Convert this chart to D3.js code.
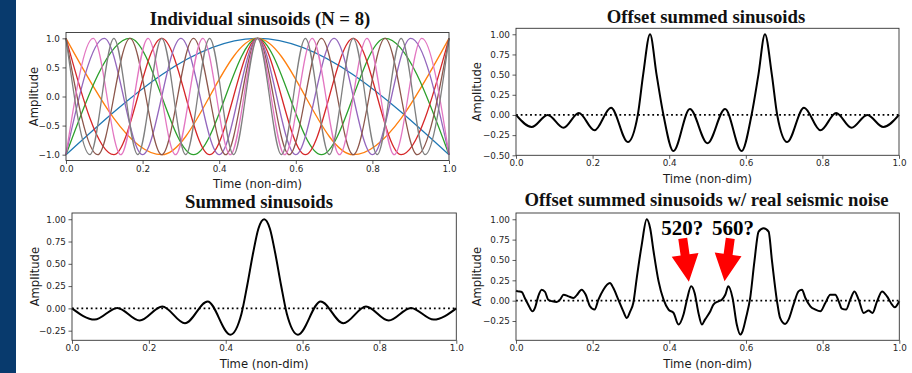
<!DOCTYPE html>
<html>
<head>
<meta charset="utf-8">
<script src="https://cdn.jsdelivr.net/npm/d3@7"></script>
<style>
  body { margin: 0; background: #fff; }
  svg { display: block; }
</style>
</head>
<body>
<svg id="fig" width="912" height="373"></svg>
<script>
// ---- data ----
const xTicks = [0, 0.2, 0.4, 0.6, 0.8, 1.0];
const yTicksIndividual = [-1, -0.5, 0, 0.5, 1];
const yTicksOffset = [-0.5, -0.25, 0, 0.25, 0.5, 0.75, 1];
const yTicksSummed = [-0.25, 0, 0.25, 0.5, 0.75, 1];

const titles = [
  'Individual sinusoids (N = 8)',
  'Offset summed sinusoids',
  'Summed sinusoids',
  'Offset summed sinusoids w/ real seismic noise'
];

// individual sinusoids: turning points [time, amplitude]
const sinF1 = [[0,-1],[0.5,1],[1,-1]];
const sinF2 = [[0,1],[0.25,-1],[0.5,1],[0.75,-1],[1,1]];
const sinF3 = [[0,-1],[0.167,1],[0.333,-1],[0.5,1],[0.667,-1],[0.833,1],[1,-1]];
const sinF4 = [[0,1],[0.125,-1],[0.25,1],[0.375,-1],[0.5,1],[0.625,-1],[0.75,1],[0.875,-1],[1,1]];
const sinF5 = [[0,-1],[0.1,1],[0.2,-1],[0.3,1],[0.4,-1],[0.5,1],[0.6,-1],[0.7,1],[0.8,-1],[0.9,1],[1,-1]];
const sinF6 = [[0,1],[0.083,-1],[0.167,1],[0.25,-1],[0.333,1],[0.417,-1],[0.5,1],[0.583,-1],[0.667,1],[0.75,-1],[0.833,1],[0.917,-1],[1,1]];
const sinF7 = [[0,-1],[0.071,1],[0.143,-1],[0.214,1],[0.286,-1],[0.357,1],[0.429,-1],[0.5,1],[0.571,-1],[0.643,1],[0.714,-1],[0.786,1],[0.857,-1],[0.929,1],[1,-1]];
const sinF8 = [[0,1],[0.0625,-1],[0.125,1],[0.1875,-1],[0.25,1],[0.3125,-1],[0.375,1],[0.4375,-1],[0.5,1],[0.5625,-1],[0.625,1],[0.6875,-1],[0.75,1],[0.8125,-1],[0.875,1],[0.9375,-1],[1,1]];
const sinColors = ['#1f77b4','#ff7f0e','#2ca02c','#d62728','#9467bd','#8c564b','#e377c2','#7f7f7f'];

const offsetSummed = [[0,0],[0.041,-0.149],[0.083,0],[0.124,-0.158],[0.164,0.025],[0.205,-0.19],
  [0.248,0.09],[0.292,-0.336],[0.318,0],[0.332,0.5],[0.35,1],[0.367,0.5],[0.385,0],[0.411,-0.448],
  [0.454,0.075],[0.5,-0.35],[0.546,0.075],[0.589,-0.448],[0.615,0],[0.633,0.5],[0.65,1],[0.668,0.5],
  [0.682,0],[0.708,-0.336],[0.752,0.09],[0.795,-0.19],[0.836,0.025],[0.876,-0.158],[0.917,0],
  [0.959,-0.149],[1,0]];

const summed = [[0,0],[0.059,-0.126],[0.118,0.005],[0.176,-0.136],[0.235,0.022],[0.294,-0.166],
  [0.353,0.078],[0.412,-0.295],[0.441,-0.06],[0.456,0.26],[0.471,0.615],[0.485,0.894],[0.5,1],
  [0.515,0.894],[0.529,0.615],[0.544,0.26],[0.559,-0.06],[0.588,-0.295],[0.647,0.078],[0.706,-0.166],
  [0.765,0.022],[0.824,-0.136],[0.882,0.005],[0.941,-0.126],[1,0]];

const noisy = [[0,0.122],[0.006,0.114],[0.015,0.106],[0.023,0.033],[0.032,-0.049],[0.043,-0.131],
  [0.05,-0.082],[0.058,0.053],[0.067,0.135],[0.076,0.106],[0.084,0.012],[0.095,-0.008],[0.106,-0.016],
  [0.115,0.012],[0.124,0.073],[0.137,0.053],[0.15,0.033],[0.158,0.065],[0.171,0.135],[0.182,0.073],
  [0.193,-0.069],[0.205,-0.11],[0.215,0.012],[0.228,0.135],[0.245,0.216],[0.254,0.155],[0.267,0.012],
  [0.28,-0.131],[0.289,-0.212],[0.298,-0.131],[0.306,-0.029],[0.315,0.278],[0.328,0.686],[0.341,1.0],
  [0.35,0.89],[0.359,0.604],[0.372,0.237],[0.385,0.012],[0.398,-0.11],[0.411,-0.151],[0.424,-0.294],
  [0.437,-0.171],[0.446,0.012],[0.457,0.176],[0.466,0.094],[0.476,-0.151],[0.485,-0.294],[0.493,-0.233],
  [0.507,-0.131],[0.515,-0.049],[0.528,-0.008],[0.537,0.012],[0.546,0.073],[0.554,0.176],[0.565,0.033],
  [0.576,-0.294],[0.585,-0.416],[0.591,-0.376],[0.6,-0.212],[0.611,0.033],[0.622,0.482],[0.633,0.849],
  [0.646,0.89],[0.659,0.849],[0.668,0.482],[0.681,-0.008],[0.689,-0.212],[0.702,-0.286],[0.711,-0.233],
  [0.724,-0.049],[0.737,0.114],[0.746,0.135],[0.755,0.033],[0.768,-0.069],[0.781,-0.11],[0.794,-0.131],
  [0.807,-0.029],[0.82,0.073],[0.833,0.073],[0.842,-0.008],[0.85,-0.098],[0.861,-0.11],[0.872,0.012],
  [0.883,0.114],[0.894,0.012],[0.907,-0.151],[0.92,-0.122],[0.93,-0.151],[0.942,-0.008],[0.955,0.114],
  [0.968,0.053],[0.981,-0.049],[0.988,-0.082],[1,-0.008]];

// annotations on the noisy panel (data coords)
const markLabels = ['520?', '560?'];
const markTextAt = [[0.434, 0.807], [0.566, 0.807]];
const markTails = [[0.435, 0.766], [0.559, 0.766]];
const markTips = [[0.451, 0.233], [0.544, 0.24]];

// ---- drawing ----
const svg = d3.select('#fig');
svg.append('rect').attr('width', 912).attr('height', 373).attr('fill', '#fff');
svg.append('rect').attr('width', 16).attr('height', 373).attr('fill', '#083a6d');

const fmt1 = d3.format('.1f');
const fmt2 = d3.format('.2f');

function panel(o) {
  const x = d3.scaleLinear().domain([0, 1]).range([o.left, o.right]);
  const y = d3.scaleLinear().domain(o.yDomain).range([o.bottom, o.top]);
  const g = svg.append('g');
  const plot = g.append('g');

  const xAxis = g.append('g')
    .attr('transform', `translate(0,${o.bottom})`)
    .call(d3.axisBottom(x).tickValues(xTicks).tickFormat(fmt1).tickSize(3.5).tickPadding(1.4));
  const yAxis = g.append('g')
    .attr('transform', `translate(${o.left},0)`)
    .call(d3.axisLeft(y).tickValues(o.yTicks).tickFormat(o.yFormat).tickSize(3.5).tickPadding(2.6));
  [xAxis, yAxis].forEach((a) => {
    a.select('.domain').remove();
    a.selectAll('line').attr('stroke', '#333').attr('stroke-width', 0.8);
    a.selectAll('text').attr('font-family', 'DejaVu Sans').attr('font-size', 8.8).attr('fill', '#262626');
  });

  g.append('rect')
    .attr('x', o.left).attr('y', o.top)
    .attr('width', o.right - o.left).attr('height', o.bottom - o.top)
    .attr('fill', 'none').attr('stroke', '#333').attr('stroke-width', 0.9);

  g.append('text')
    .attr('x', o.titleX).attr('y', o.titleY)
    .attr('text-anchor', 'middle')
    .attr('font-family', 'Liberation Serif, Times New Roman, serif')
    .attr('font-weight', 'bold').attr('font-size', 18.7)
    .attr('fill', '#111')
    .text(o.title);

  g.append('text')
    .attr('x', (o.left + o.right) / 2).attr('y', o.bottom + 27.5)
    .attr('text-anchor', 'middle')
    .attr('font-family', 'DejaVu Sans').attr('font-size', 11.6)
    .attr('fill', '#1a1a1a')
    .text('Time (non-dim)');

  g.append('text')
    .attr('transform', `translate(${o.left - o.ylabOff},${(o.top + o.bottom) / 2}) rotate(-90)`)
    .attr('text-anchor', 'middle')
    .attr('font-family', 'DejaVu Sans').attr('font-size', 11.6)
    .attr('fill', '#1a1a1a')
    .text('Amplitude');

  return { x, y, plot };
}

function lineFor(p) {
  return d3.line().x((d) => p.x(d[0])).y((d) => p.y(d[1])).curve(d3.curveMonotoneX);
}

function zeroLine(p) {
  p.plot.append('line')
    .attr('x1', p.x(0)).attr('x2', p.x(1))
    .attr('y1', p.y(0)).attr('y2', p.y(0))
    .attr('stroke', '#000').attr('stroke-width', 1.8)
    .attr('stroke-dasharray', '1.8 2.9');
}

function blackCurve(p, data) {
  p.plot.append('path')
    .datum(data)
    .attr('d', lineFor(p))
    .attr('fill', 'none')
    .attr('stroke', '#000')
    .attr('stroke-width', 2)
    .attr('stroke-linejoin', 'round');
}

// Individual sinusoids
const pTL = panel({
  left: 66, right: 449, top: 32.5, bottom: 160.5, yDomain: [-1.1, 1.1],
  yTicks: yTicksIndividual, yFormat: fmt1, title: titles[0], titleX: 260, titleY: 25, ylabOff: 28.5
});
[sinF1, sinF2, sinF3, sinF4, sinF5, sinF6, sinF7, sinF8].forEach((s, i) => {
  pTL.plot.append('path')
    .datum(s)
    .attr('d', lineFor(pTL))
    .attr('fill', 'none')
    .attr('stroke', sinColors[i])
    .attr('stroke-width', 1.3);
});

// Offset summed sinusoids
const pTR = panel({
  left: 516, right: 899, top: 28.3, bottom: 155.3, yDomain: [-0.5, 1.074],
  yTicks: yTicksOffset, yFormat: fmt2, title: titles[1], titleX: 706, titleY: 23.3, ylabOff: 35
});
zeroLine(pTR);
blackCurve(pTR, offsetSummed);

// Summed sinusoids
const pBL = panel({
  left: 72, right: 456.3, top: 213, bottom: 340.3, yDomain: [-0.358, 1.07],
  yTicks: yTicksSummed, yFormat: fmt2, title: titles[2], titleX: 259, titleY: 208.3, ylabOff: 33.5
});
zeroLine(pBL);
blackCurve(pBL, summed);

// Offset summed w/ noise
const pBR = panel({
  left: 516, right: 899.3, top: 213, bottom: 340.3, yDomain: [-0.487, 1.077],
  yTicks: yTicksSummed, yFormat: fmt2, title: titles[3], titleX: 706.5, titleY: 205.7, ylabOff: 35
});
zeroLine(pBR);
blackCurve(pBR, noisy);

// red arrows + question labels
const ann = svg.append('g');
markLabels.forEach((label, i) => {
  const tx = pBR.x(markTails[i][0]), ty = pBR.y(markTails[i][1]);
  const px = pBR.x(markTips[i][0]), py = pBR.y(markTips[i][1]);
  const len = Math.hypot(px - tx, py - ty);
  const ux = (px - tx) / len, uy = (py - ty) / len;
  const nx = -uy, ny = ux;
  const headLen = 27, sh = 4.5, hh = 13.5;
  const bx = px - ux * headLen, by = py - uy * headLen;
  const pts = [
    [tx + nx * sh, ty + ny * sh], [bx + nx * sh, by + ny * sh], [bx + nx * hh, by + ny * hh],
    [px, py],
    [bx - nx * hh, by - ny * hh], [bx - nx * sh, by - ny * sh], [tx - nx * sh, ty - ny * sh]
  ];
  ann.append('polygon')
    .attr('points', pts.map((p) => p.join(',')).join(' '))
    .attr('fill', '#ff0000');

  ann.append('text')
    .attr('x', pBR.x(markTextAt[i][0])).attr('y', pBR.y(markTextAt[i][1]))
    .attr('text-anchor', 'middle')
    .attr('font-family', 'Liberation Serif, Times New Roman, serif')
    .attr('font-weight', 'bold').attr('font-size', 21)
    .attr('fill', '#000')
    .text(label);
});
</script>
</body>
</html>
